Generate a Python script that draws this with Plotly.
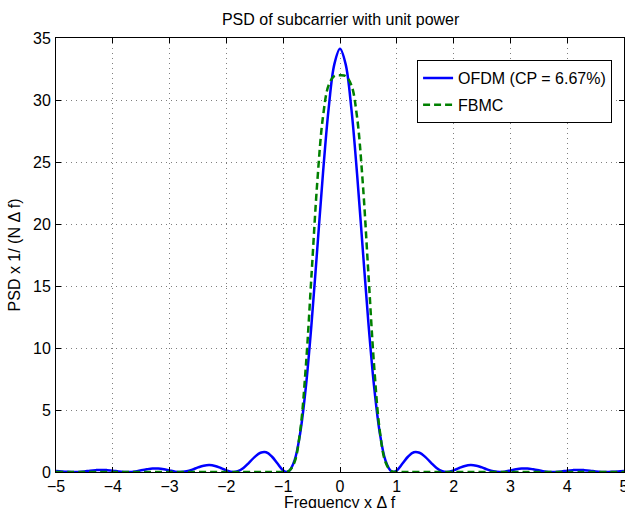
import plotly.graph_objects as go

# ---- data ----
ofdm_freq = [-5.0, -4.9, -4.8, -4.6875, -4.6, -4.5, -4.4, -4.3, -4.2, -4.1, -4.0, -3.9, -3.8, -3.75,
             -3.6, -3.5, -3.4, -3.3, -3.2, -3.1, -3.0, -2.9, -2.8125, -2.7, -2.6, -2.5, -2.4, -2.3,
             -2.2, -2.1, -2.0, -1.875, -1.8, -1.7, -1.6, -1.5, -1.4, -1.3, -1.2, -1.1, -1.0, -0.9375,
             -0.9, -0.8, -0.7, -0.6, -0.5, -0.4, -0.3, -0.2, -0.1, 0.0,
             0.1, 0.2, 0.3, 0.4, 0.5, 0.6, 0.7, 0.8, 0.9, 0.9375, 1.0, 1.1, 1.2, 1.3, 1.4, 1.5, 1.6,
             1.7, 1.8, 1.875, 2.0, 2.1, 2.2, 2.3, 2.4, 2.5, 2.6, 2.7, 2.8125, 2.9, 3.0, 3.1, 3.2, 3.3,
             3.4, 3.5, 3.6, 3.75, 3.8, 3.9, 4.0, 4.1, 4.2, 4.3, 4.4, 4.5, 4.6, 4.6875, 4.8, 4.9, 5.0]
ofdm_psd = [0.09, 0.05, 0.02, 0.0, 0.01, 0.05, 0.11, 0.15, 0.17, 0.15, 0.11, 0.05, 0.01, 0.0,
            0.05, 0.14, 0.22, 0.28, 0.28, 0.22, 0.12, 0.03, 0.0, 0.06, 0.19, 0.37, 0.51, 0.56,
            0.49, 0.32, 0.13, 0.0, 0.06, 0.33, 0.76, 1.22, 1.55, 1.59, 1.25, 0.68, 0.13, 0.0,
            0.06, 0.94, 3.17, 6.91, 12.02, 18.01, 24.07, 29.31, 32.87, 34.13,
            32.87, 29.31, 24.07, 18.01, 12.02, 6.91, 3.17, 0.94, 0.06, 0.0, 0.13, 0.68, 1.25, 1.59, 1.55, 1.22, 0.76,
            0.33, 0.06, 0.0, 0.13, 0.32, 0.49, 0.56, 0.51, 0.37, 0.19, 0.06, 0.0, 0.03, 0.12, 0.22, 0.28, 0.28,
            0.22, 0.14, 0.05, 0.0, 0.01, 0.05, 0.11, 0.15, 0.17, 0.15, 0.11, 0.05, 0.01, 0.0, 0.02, 0.05, 0.09]

fbmc_freq = [-5.0, -4.0, -3.0, -2.0, -1.5, -1.2, -1.1, -1.0, -0.9, -0.8, -0.7, -0.6, -0.5, -0.4,
             -0.3, -0.2, -0.1, 0.0, 0.1, 0.2, 0.3, 0.4, 0.5, 0.6, 0.7, 0.8, 0.9, 1.0, 1.1, 1.2,
             1.5, 2.0, 3.0, 4.0, 5.0]
fbmc_psd = [0.0, 0.0, 0.0, 0.0, 0.0, 0.0, 0.0, 0.0, 0.08, 0.81, 3.34, 8.61, 16.0, 23.38,
            28.64, 31.20, 31.93, 32.0, 31.93, 31.20, 28.64, 23.38, 16.0, 8.61, 3.34, 0.81, 0.08, 0.0, 0.0, 0.0,
            0.0, 0.0, 0.0, 0.0, 0.0]

x_ticks = [-5, -4, -3, -2, -1, 0, 1, 2, 3, 4, 5]
x_tick_labels = ["\u22125", "\u22124", "\u22123", "\u22122", "\u22121", "0", "1", "2", "3", "4", "5"]
y_ticks = [0, 5, 10, 15, 20, 25, 30, 35]

series_names = ["OFDM (CP = 6.67%)", "FBMC"]
x_title = "Frequency x \u0394 f"
y_title = "PSD x 1/ (N \u0394 f)"
chart_title = "PSD of subcarrier with unit power"

FONT = "Liberation Sans, Arial, Helvetica, sans-serif"
FS = 16

fig = go.Figure()
fig.add_trace(go.Scatter(
    x=ofdm_freq, y=ofdm_psd, mode="lines", name=series_names[0],
    line=dict(color="#0000FF", width=2.5, shape="spline", smoothing=1.0),
    legendgroup="a"))
fig.add_trace(go.Scatter(
    x=fbmc_freq, y=fbmc_psd, mode="lines", name=series_names[1],
    line=dict(color="#008000", width=2.5, dash="7px,4px", shape="spline", smoothing=1.0),
    legendgroup="b"))

axis_common = dict(
    showline=True, linecolor="black", linewidth=1, mirror="allticks",
    ticks="inside", ticklen=5, tickcolor="black", tickwidth=1,
    showgrid=True, gridcolor="rgba(0,0,0,0.5)", gridwidth=1, griddash="1px,4px",
    zeroline=False, tickfont=dict(family=FONT, size=FS, color="black"),
    ticklabeloverflow="allow", automargin=False,
)

fig.update_layout(
    width=625, height=508,
    margin=dict(l=56, r=1, t=38, b=36),
    paper_bgcolor="white", plot_bgcolor="white",
    font=dict(family=FONT, size=FS, color="black"),
    title=dict(text=chart_title, x=0.545, xanchor="center",
               y=1 - 19 / 508, yanchor="middle", font=dict(family=FONT, size=FS, color="black")),
    xaxis=dict(range=[-5, 5], tickvals=x_ticks, ticktext=x_tick_labels, ticklabelstandoff=0,
               **axis_common),
    yaxis=dict(range=[0, 35], tickvals=y_ticks, ticklabelstandoff=1,
               title=dict(text=y_title, standoff=8,
                          font=dict(family=FONT, size=FS, color="black")),
               **axis_common),
    legend=dict(x=0.979, y=0.949, xanchor="right", yanchor="top",
                bgcolor="white", bordercolor="black", borderwidth=1,
                font=dict(family=FONT, size=FS, color="black"),
                traceorder="grouped", tracegroupgap=3, itemwidth=30),
    showlegend=True,
    annotations=[dict(text=x_title, xref="paper", yref="paper", x=0.5, y=0,
                      xanchor="center", yanchor="top", yshift=-20, showarrow=False,
                      font=dict(family=FONT, size=FS, color="black"))],
)

fig.write_html("out.html")
